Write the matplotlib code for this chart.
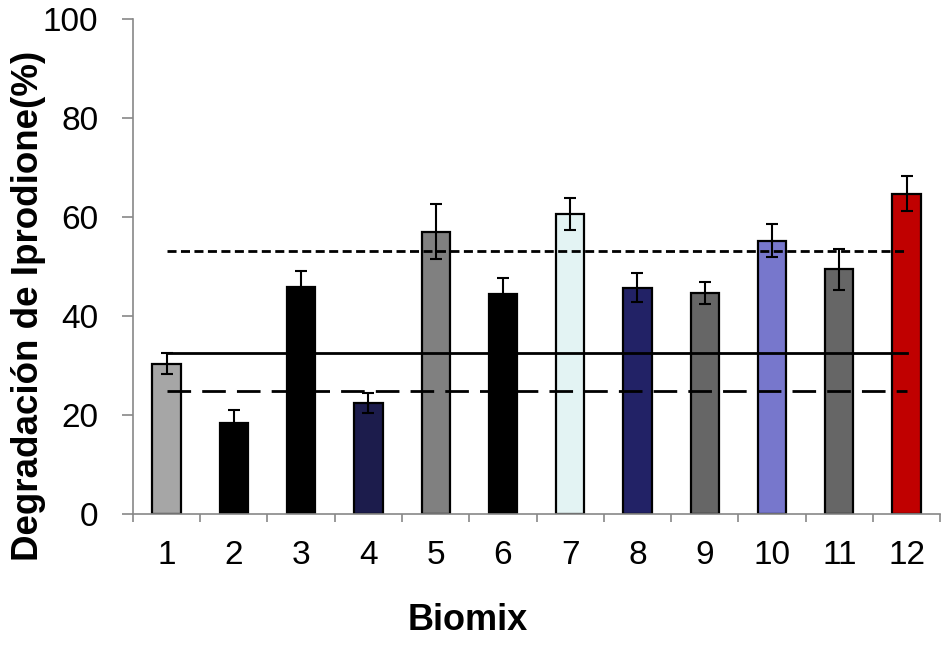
import numpy as np
import matplotlib
matplotlib.use("Agg")
from matplotlib import pyplot as plt

# Degradation of iprodione per biomix (mean and error)
biomix = ["1", "2", "3", "4", "5", "6", "7", "8", "9", "10", "11", "12"]
degradacion = [30.3, 18.4, 45.9, 22.4, 57.0, 44.4, 60.6, 45.7, 44.6, 55.2, 49.4, 64.7]
error = [2.1, 2.6, 3.2, 2.1, 5.5, 3.2, 3.3, 2.9, 2.2, 3.3, 4.1, 3.6]
colores = ["#a6a6a6", "#000000", "#000000", "#1c1c4c", "#808080", "#000000",
           "#e3f3f3", "#222266", "#666666", "#7777cc", "#666666", "#c00000"]

# Reference levels drawn across the bars
nivel_punteado = 53.0
nivel_solido = 32.4
nivel_guiones = 24.9

plt.rcParams['font.family'] = ['Liberation Sans', 'DejaVu Sans']
plt.rcParams['lines.scale_dashes'] = False

fig = plt.figure(figsize=(9.43, 6.48), dpi=100)
ax = fig.add_axes([0.141, 0.207, 0.856, 0.764])

x = np.arange(1, len(biomix) + 1)
ax.bar(x, degradacion, width=0.42, color=colores, edgecolor="black", linewidth=1.6, zorder=2)
ax.errorbar(x, degradacion, yerr=error, fmt="none", ecolor="black", elinewidth=1.5,
            capsize=4.5, capthick=1.5, zorder=3)

ax.plot([x[0], x[-1]], [nivel_punteado] * 2, color="black", linewidth=2,
        linestyle=(0, (6.5, 3.2)), zorder=4)
ax.plot([x[0], x[-1]], [nivel_solido] * 2, color="black", linewidth=2, zorder=4)
ax.plot([x[0], x[-1]], [nivel_guiones] * 2, color="black", linewidth=2,
        linestyle=(0, (17, 8)), zorder=4)

ax.set_xlim(0.5, 12.5)
ax.set_ylim(0, 100)
ax.set_yticks([0, 20, 40, 60, 80, 100])

# category labels in the middle, tick marks on the boundaries
ax.set_xticks(x)
ax.set_xticklabels(biomix)
ax.tick_params(axis="x", length=0, labelsize=24, pad=19)
ax.set_xticks(np.arange(0.5, 13.0, 1.0), minor=True)
ax.tick_params(axis="x", which="minor", length=6, color="#888888", width=1.2, direction="out")
ax.tick_params(axis="y", length=8, color="#888888", width=1.2, labelsize=24, pad=17)

for s in ["top", "right"]:
    ax.spines[s].set_visible(False)
for s in ["left", "bottom"]:
    ax.spines[s].set_color("#888888")
    ax.spines[s].set_linewidth(1.2)

ax.set_xlabel("Biomix", fontsize=26, fontweight="bold", va="top")
ax.set_ylabel("Degradación de Iprodione(%)", fontsize=26.5, fontweight="bold")
ax.xaxis.set_label_coords(0.4145, -0.18)
ax.yaxis.set_label_coords(-0.108, 0.421)

fig.savefig("out.png", dpi=100)
